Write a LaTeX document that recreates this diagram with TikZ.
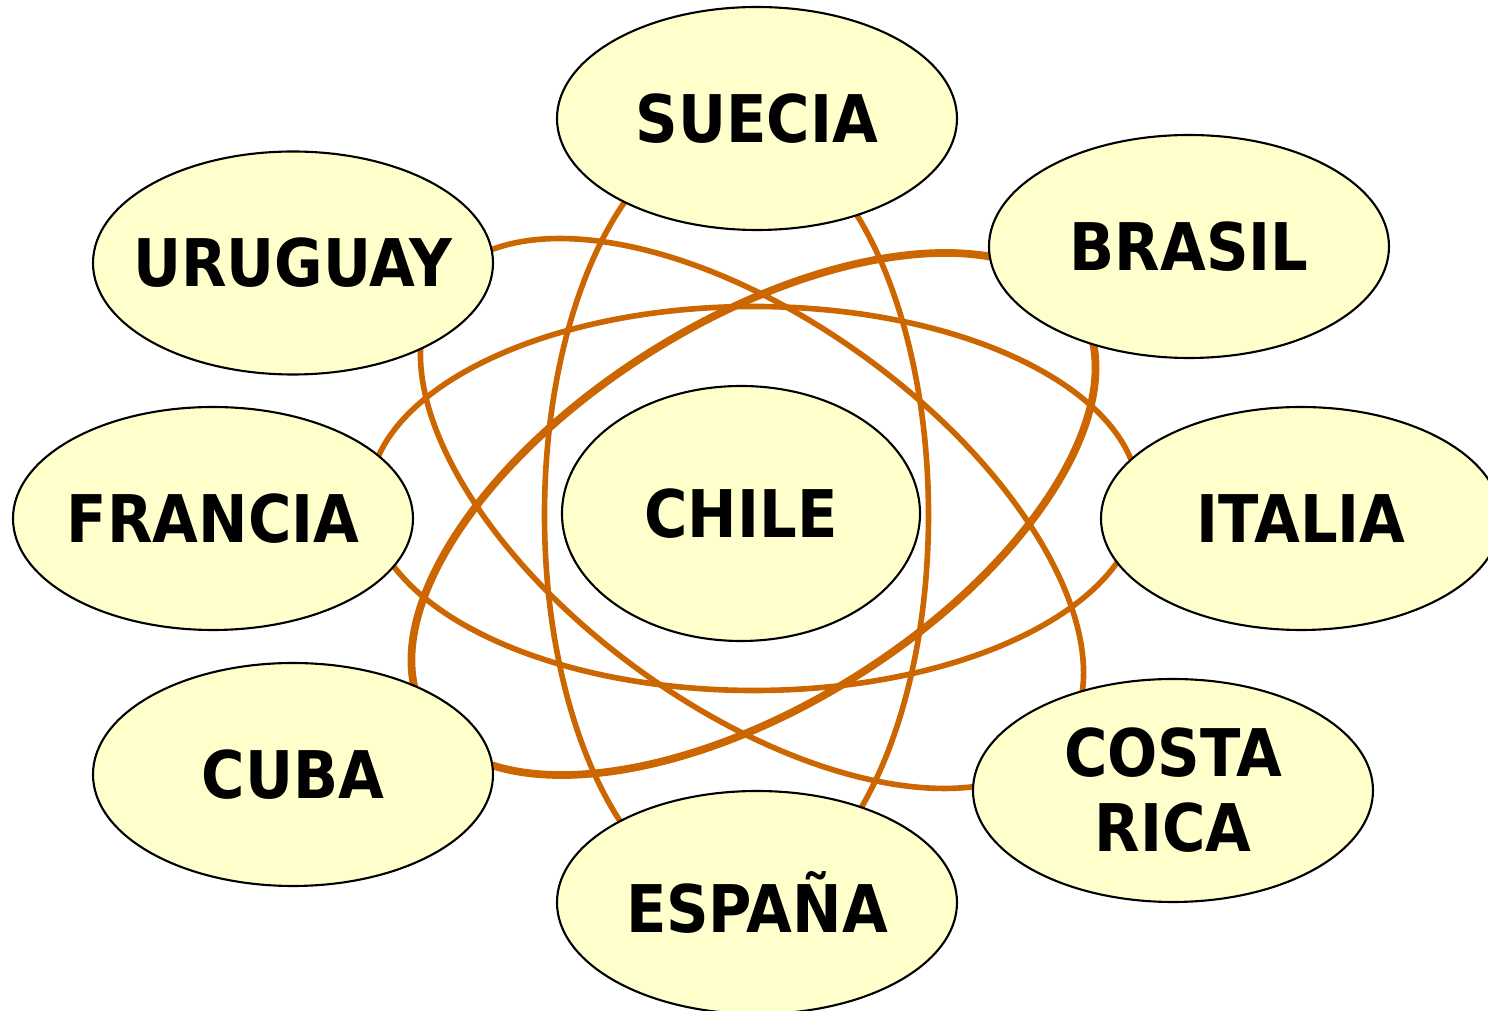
\documentclass[tikz,border=0pt]{standalone}
\usepackage{fontspec}
\setmainfont{DejaVu Sans}[FakeStretch=0.9]
\usepackage{xcolor}
\usepackage{tikz}
\usetikzlibrary{shapes.geometric}
\definecolor{mapYellow}{HTML}{FFFFCC}
\definecolor{mapOrange}{HTML}{CC6600}
\newcommand{\countryfont}{\fontsize{18.7}{21.3}\selectfont\bfseries}
\tikzset{
  country/.style={ellipse,draw=black,line width=0.6pt,fill=mapYellow,
    minimum width=4cm,minimum height=2.23cm,inner sep=0pt,
    label={[font=\countryfont,align=center,inner sep=0pt]center:#1}},
  orbit/.style={draw=mapOrange,line width=1.6pt},
  thickorbit/.style={draw=mapOrange,line width=2.2pt}
}

\begin{document}
\begin{tikzpicture}
\useasboundingbox (0,0) rectangle (14.88,-10.11);

% orbits behind the countries
\draw[orbit] (7.54,-4.985) ellipse [x radius=3.85, y radius=1.92];
\draw[orbit] (7.365,-5.15) ellipse [x radius=1.92, y radius=3.85];
\draw[orbit, rotate around={-36:(7.52,-5.135)}] (7.52,-5.135)
  ellipse [x radius=3.85, y radius=1.93];
\draw[thickorbit, rotate around={32:(7.535,-5.14)}] (7.535,-5.14)
  ellipse [x radius=3.85, y radius=1.92];

\node[country=CHILE, minimum width=3.58cm, minimum height=2.55cm] (chile) at (7.41,-5.135) {};
\node[country=SUECIA] (suecia) at (7.57,-1.185) {};
\node[country=BRASIL] (brasil) at (11.89,-2.465) {};
\node[country=URUGUAY] (uruguay) at (2.93,-2.63) {};
\node[country=FRANCIA] (francia) at (2.13,-5.185) {};
\node[country=ITALIA] (italia) at (13.01,-5.185) {};
\node[country=CUBA] (cuba) at (2.93,-7.745) {};
\node[country={COSTA\\RICA}] (costarica) at (11.73,-7.905) {};
\node[country=ESPAÑA] (espana) at (7.57,-9.025) {};
\end{tikzpicture}
\end{document}
